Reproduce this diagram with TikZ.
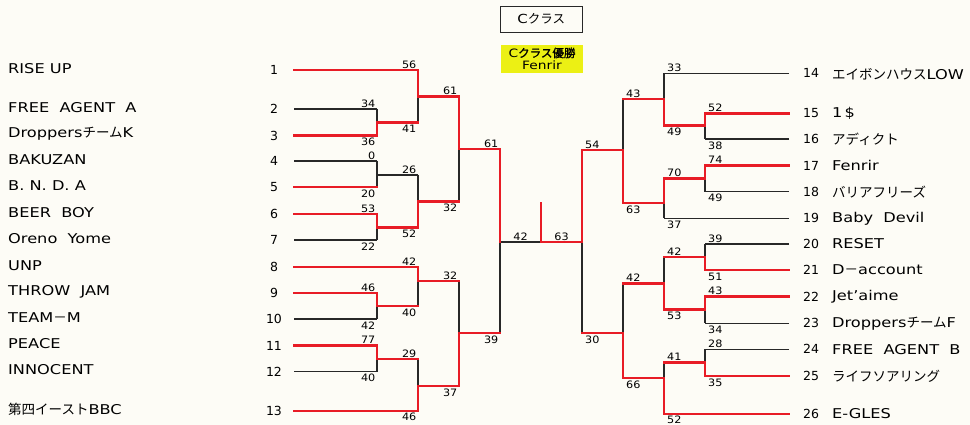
\documentclass[tikz,border=0pt]{standalone}
\usepackage{fontspec}
\setmainfont{DejaVu Sans}[FakeStretch=1.2]
\newfontfamily\dv{DejaVu Sans}
\newfontfamily\dvs{DejaVu Sans}[FakeStretch=1.1]
\newfontfamily\jp{Noto Sans CJK JP}
\newfontfamily\jpb{Noto Sans CJK JP}[FakeBold=1.4]
\usetikzlibrary{calc}
\definecolor{bred}{RGB}{232,28,38}
\definecolor{lcol}{RGB}{40,40,40}
\definecolor{bgc}{RGB}{253,252,246}
\definecolor{yel}{RGB}{236,240,20}
\newcommand\J[1]{{\jp #1}}
\newcommand\mcoord[5]{\coordinate (#1t) at (#2,#3);\coordinate (#1m) at (#2,#4);\coordinate (#1b) at (#2,#5);}
\begin{document}
\begin{tikzpicture}[x=1pt,y=-1pt,
  win/.style={draw=bred,line width=2.8pt,line cap=rect},
  lose/.style={draw=lcol,line width=1.1pt},
  tname/.style={anchor=west,inner sep=0pt,font=\fontsize{13.5}{15}\selectfont},
  seedl/.style={inner sep=0pt,font=\dv\fontsize{12.5}{14}\selectfont},
  seedr/.style={anchor=west,inner sep=0pt,font=\dv\fontsize{12.5}{14}\selectfont},
  sc/.style={inner xsep=1pt,font=\dvs\fontsize{10.2}{11}\selectfont},
  lu/.style={sc,anchor=south east,inner ysep=1.6pt,xshift=-0.5pt},
  ld/.style={sc,anchor=north east,inner ysep=2.4pt,xshift=-0.5pt},
  ru/.style={sc,anchor=south west,inner ysep=1.6pt,xshift=2pt},
  rd/.style={sc,anchor=north west,inner ysep=2.4pt,xshift=2pt},
]
\fill[bgc] (0,0) rectangle (970,425);
\useasboundingbox (0,0) rectangle (970,425);

% ---------- title boxes ----------
\node[draw=lcol,line width=1.3pt,minimum width=82pt,minimum height=26pt,inner sep=0pt,
  font=\fontsize{12.5}{13}\selectfont] (title) at (541.3,19.2) {C\J{クラス}};
\node[fill=yel,minimum width=82.6pt,minimum height=27.7pt,inner sep=0pt,align=center,
  font=\fontsize{11.5}{12.5}\selectfont] (champ) at (542,58.8) {C{\jpb クラス優勝}\\Fenrir};

% ---------- left seeds and names ----------
\foreach \i/\y in {1/70,2/109,3/135.7,4/161,5/187,6/214,7/240,8/267,9/293,10/319,11/345.7,12/371.7,13/411}{
  \node[seedl] (s\i) at (274,\y) {\i};
  \coordinate (a\i) at (294,\y);
}
\node[tname] (n1) at (8,68.5) {RISE UP};
\node[tname] (n2) at (8,108) {FREE\ \ AGENT\ \ A};
\node[tname] (n3) at (8,134) {Droppers\J{チーム}K};
\node[tname] (n4) at (8,160) {BAKUZAN};
\node[tname] (n5) at (8,186) {B.\ N.\ D.\ A};
\node[tname] (n6) at (8,213) {BEER\ \ BOY};
\node[tname] (n7) at (8,239) {Oreno\ \ Yome};
\node[tname] (n8) at (8,265.5) {UNP};
\node[tname] (n9) at (8,291.5) {THROW\ \ JAM};
\node[tname] (n10) at (8,318) {TEAM\J{－}M};
\node[tname] (n11) at (8,343.5) {PEACE};
\node[tname] (n12) at (8,369.5) {INNOCENT};
\node[tname] (n13) at (8,409.5) {\J{第四イースト}BBC};

% ---------- right seeds and names ----------
\foreach \i/\y in {14/73.3,15/113.3,16/139,17/165.7,18/191.7,19/218.3,20/244,21/270,22/296.7,23/323.3,24/349.3,25/376,26/414}{
  \node[seedr] (s\i) at (803,\y) {\i};
  \coordinate (b\i) at (789,\y);
}
\node[tname] (n14) at (832,74) {\J{エイボンハウス}LOW};
\node[tname] (n15) at (832,113.3) {1\,\$};
\node[tname] (n16) at (832,139) {\J{アディクト}};
\node[tname] (n17) at (832,165.7) {Fenrir};
\node[tname] (n18) at (832,191.7) {\J{バリアフリーズ}};
\node[tname] (n19) at (832,218.3) {Baby\ \ Devil};
\node[tname] (n20) at (832,244) {RESET};
\node[tname] (n21) at (832,270) {D\J{－}account};
\node[tname] (n22) at (832,296.7) {Jet’aime};
\node[tname] (n23) at (832,323.3) {Droppers\J{チーム}F};
\node[tname] (n24) at (832,349.3) {FREE\ \ AGENT\ \ B};
\node[tname] (n25) at (832,376) {\J{ライフソアリング}};
\node[tname] (n26) at (832,414) {E-GLES};

% ---------- match coordinates ----------
\mcoord{lA1}{377}{109}{122.7}{135.7}
\mcoord{lB1}{377}{161}{175}{187}
\mcoord{lC1}{377}{214}{227.5}{240}
\mcoord{lD1}{377}{293}{306}{319}
\mcoord{lE1}{377}{345.7}{359}{371.7}
\mcoord{lA2}{418}{70}{96.5}{122.7}
\mcoord{lB2}{418}{175}{201.5}{227.5}
\mcoord{lC2}{418}{267}{281}{306}
\mcoord{lD2}{418}{359}{386}{411}
\mcoord{lA3}{459}{96.5}{149}{201.5}
\mcoord{lB3}{459}{281}{333}{386}
\mcoord{lF}{500}{149}{242}{333}
\mcoord{rA1}{705}{113.3}{125.5}{139}
\mcoord{rB1}{705}{165.7}{178.5}{191.7}
\mcoord{rC1}{705}{244}{257}{270}
\mcoord{rD1}{705}{296.7}{309.5}{323.3}
\mcoord{rE1}{705}{349.3}{362.7}{376}
\mcoord{rA2}{664}{73.3}{99}{125.5}
\mcoord{rB2}{664}{178.5}{203}{218.3}
\mcoord{rC2}{664}{257}{283.3}{309.5}
\mcoord{rD2}{664}{362.7}{378}{414}
\mcoord{rA3}{623}{99}{150}{203}
\mcoord{rB3}{623}{283.3}{333}{378}
\mcoord{rF}{582}{150}{242}{333}
\coordinate (fs) at (541,242);
\coordinate (ft) at (541,203);

% ---------- black lines ----------
\draw[lose] (a2)--(lA1t) (a4)--(lB1t) (a7)--(lC1b) (a10)--(lD1b) (a12)--(lE1b);
\draw[lose] (lA1t)--(lA1m) (lB1t)--(lB1m) (lB1m)--(lB1b) (lC1m)--(lC1b) (lD1m)--(lD1b) (lE1m)--(lE1b);
\draw[lose] (lB1m)--(lB2t);
\draw[lose] (lA2m)--(lA2b) (lB2t)--(lB2m) (lC2m)--(lC2b) (lD2t)--(lD2m);
\draw[lose] (lA3m)--(lA3b) (lB3t)--(lB3m) (lFm)--(lFb) (lFm)--(fs);
\draw[lose] (b14)--(rA2t) (b16)--(rA1b) (b18)--(rB1b) (b19)--(rB2b) (b20)--(rC1t) (b23)--(rD1b) (b24)--(rE1t);
\draw[lose] (rA1m)--(rA1b) (rB1m)--(rB1b) (rC1t)--(rC1m) (rD1m)--(rD1b) (rE1t)--(rE1m);
\draw[lose] (rA2t)--(rA2m) (rB2m)--(rB2b) (rC2t)--(rC2m) (rD2t)--(rD2m);
\draw[lose] (rA3t)--(rA3m) (rB3t)--(rB3m) (rFm)--(rFb);

% ---------- red lines ----------
\draw[win] (a1)--(lA2t) (a3)--(lA1b) (a5)--(lB1b) (a6)--(lC1t) (a8)--(lC2t) (a9)--(lD1t) (a11)--(lE1t) (a13)--(lD2b);
\draw[win] (lA1m)--(lA1b) (lC1t)--(lC1m) (lD1t)--(lD1m) (lE1t)--(lE1m);
\draw[win] (lA1m)--(lA2b) (lC1m)--(lB2b) (lD1m)--(lC2b) (lE1m)--(lD2t);
\draw[win] (lA2t)--(lA2m) (lB2m)--(lB2b) (lC2t)--(lC2m) (lD2m)--(lD2b);
\draw[win] (lA2m)--(lA3t) (lB2m)--(lA3b) (lC2m)--(lB3t) (lD2m)--(lB3b);
\draw[win] (lA3t)--(lA3m) (lB3m)--(lB3b) (lA3m)--(lFt) (lB3m)--(lFb) (lFt)--(lFm);
\draw[win] (b15)--(rA1t) (b17)--(rB1t) (b21)--(rC1b) (b22)--(rD1t) (b25)--(rE1b) (b26)--(rD2b);
\draw[win] (rA1t)--(rA1m) (rB1t)--(rB1m) (rC1m)--(rC1b) (rD1t)--(rD1m) (rE1m)--(rE1b);
\draw[win] (rA1m)--(rA2b) (rB1m)--(rB2t) (rC1m)--(rC2t) (rD1m)--(rC2b) (rE1m)--(rD2t);
\draw[win] (rA2m)--(rA2b) (rB2t)--(rB2m) (rC2m)--(rC2b) (rD2m)--(rD2b);
\draw[win] (rA2m)--(rA3t) (rB2m)--(rA3b) (rC2m)--(rB3t) (rD2m)--(rB3b);
\draw[win] (rA3m)--(rA3b) (rB3m)--(rB3b) (rA3m)--(rFt) (rB3m)--(rFb) (rFt)--(rFm);
\draw[win] (rFm)--(fs) (fs)--(ft);

% ---------- scores left ----------
\node[lu] (q1) at (lA2t) {56};
\node[lu] (q2) at (lA1t) {34};
\node[ld] (q3) at (lA1b) {36};
\node[lu] (q4) at (lB1t) {0};
\node[ld] (q5) at (lB1b) {20};
\node[lu] (q6) at (lC1t) {53};
\node[ld] (q7) at (lC1b) {22};
\node[lu] (q8) at (lC2t) {42};
\node[lu] (q9) at (lD1t) {46};
\node[ld] (q10) at (lD1b) {42};
\node[lu] (q11) at (lE1t) {77};
\node[ld] (q12) at (lE1b) {40};
\node[ld,inner ysep=1.8pt] (q13) at (lD2b) {46};
\node[ld] (q14) at (lA2b) {41};
\node[lu] (q15) at (lB2t) {26};
\node[ld] (q16) at (lB2b) {52};
\node[ld] (q17) at (lC2b) {40};
\node[lu] (q18) at (lD2t) {29};
\node[lu] (q19) at (lA3t) {61};
\node[ld] (q20) at (lA3b) {32};
\node[lu] (q21) at (lB3t) {32};
\node[ld] (q22) at (lB3b) {37};
\node[lu] (q23) at (lFt) {61};
\node[ld] (q24) at (lFb) {39};
\node[sc,anchor=south,inner ysep=1.6pt] (q25) at ($(lFm)!0.5!(fs)$) {42};
\node[sc,anchor=south,inner ysep=1.6pt] (q26) at ($(fs)!0.5!(rFm)$) {63};

% ---------- scores right ----------
\node[ru] (q27) at (rA2t) {33};
\node[ru] (q28) at (rA1t) {52};
\node[rd] (q29) at (rA1b) {38};
\node[ru] (q30) at (rB1t) {74};
\node[rd] (q31) at (rB1b) {49};
\node[rd] (q32) at (rB2b) {37};
\node[ru] (q33) at (rC1t) {39};
\node[rd] (q34) at (rC1b) {51};
\node[ru] (q35) at (rD1t) {43};
\node[rd] (q36) at (rD1b) {34};
\node[ru] (q37) at (rE1t) {28};
\node[rd] (q38) at (rE1b) {35};
\node[rd,inner ysep=1.4pt] (q39) at (rD2b) {52};
\node[rd] (q40) at (rA2b) {49};
\node[ru] (q41) at (rB2t) {70};
\node[ru] (q42) at (rC2t) {42};
\node[rd] (q43) at (rC2b) {53};
\node[ru] (q44) at (rD2t) {41};
\node[ru] (q45) at (rA3t) {43};
\node[rd] (q46) at (rA3b) {63};
\node[ru] (q47) at (rB3t) {42};
\node[rd] (q48) at (rB3b) {66};
\node[ru] (q49) at (rFt) {54};
\node[rd] (q50) at (rFb) {30};
\end{tikzpicture}
\end{document}
